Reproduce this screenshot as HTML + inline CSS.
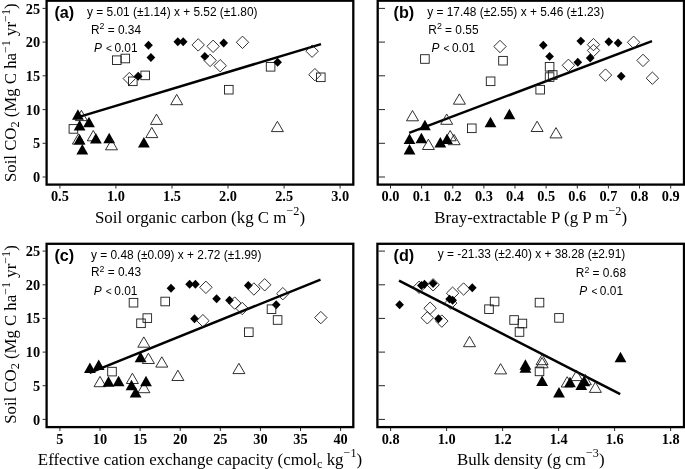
<!DOCTYPE html>
<html><head><meta charset="utf-8"><title>Soil CO2 regressions</title>
<style>html,body{margin:0;padding:0;background:#fff}svg{display:block;will-change:transform}</style>
</head><body>
<svg width="685" height="469" viewBox="0 0 685 469">
<rect width="685" height="469" fill="#fff"/>
<rect x="46.6" y="0.7" width="306.7" height="183.9" fill="none" stroke="#000" stroke-width="2.3"/>
<rect x="377.7" y="0.7" width="306.3" height="183.9" fill="none" stroke="#000" stroke-width="2.3"/>
<rect x="46.6" y="243.8" width="306.7" height="183.3" fill="none" stroke="#000" stroke-width="2.3"/>
<rect x="377.4" y="243.8" width="306.6" height="183.3" fill="none" stroke="#000" stroke-width="2.3"/>
<path d="M42.6 8.4H45.6" stroke="#000" stroke-width="0.85"/>
<text x="40.1" y="13.9" text-anchor="end" font-family="Liberation Serif, serif" font-weight="bold" font-size="14.3">25</text>
<path d="M378.7 8.4H385" stroke="#000" stroke-width="0.85"/>
<path d="M42.6 42.1H45.6" stroke="#000" stroke-width="0.85"/>
<text x="40.1" y="47.4" text-anchor="end" font-family="Liberation Serif, serif" font-weight="bold" font-size="14.3">20</text>
<path d="M378.7 42.1H385" stroke="#000" stroke-width="0.85"/>
<path d="M42.6 75.8H45.6" stroke="#000" stroke-width="0.85"/>
<text x="40.1" y="81.0" text-anchor="end" font-family="Liberation Serif, serif" font-weight="bold" font-size="14.3">15</text>
<path d="M378.7 75.8H385" stroke="#000" stroke-width="0.85"/>
<path d="M42.6 109.6H45.6" stroke="#000" stroke-width="0.85"/>
<text x="40.1" y="114.5" text-anchor="end" font-family="Liberation Serif, serif" font-weight="bold" font-size="14.3">10</text>
<path d="M378.7 109.6H385" stroke="#000" stroke-width="0.85"/>
<path d="M42.6 143.3H45.6" stroke="#000" stroke-width="0.85"/>
<text x="40.1" y="148.1" text-anchor="end" font-family="Liberation Serif, serif" font-weight="bold" font-size="14.3">5</text>
<path d="M378.7 143.3H385" stroke="#000" stroke-width="0.85"/>
<path d="M42.6 177.0H45.6" stroke="#000" stroke-width="0.85"/>
<text x="40.1" y="181.6" text-anchor="end" font-family="Liberation Serif, serif" font-weight="bold" font-size="14.3">0</text>
<path d="M378.7 177.0H385" stroke="#000" stroke-width="0.85"/>
<path d="M42.6 251.1H45.6" stroke="#000" stroke-width="0.85"/>
<text x="40.1" y="255.9" text-anchor="end" font-family="Liberation Serif, serif" font-weight="bold" font-size="14.3">25</text>
<path d="M378.7 251.1H385" stroke="#000" stroke-width="0.85"/>
<path d="M42.6 284.8H45.6" stroke="#000" stroke-width="0.85"/>
<text x="40.1" y="289.7" text-anchor="end" font-family="Liberation Serif, serif" font-weight="bold" font-size="14.3">20</text>
<path d="M378.7 284.8H385" stroke="#000" stroke-width="0.85"/>
<path d="M42.6 318.4H45.6" stroke="#000" stroke-width="0.85"/>
<text x="40.1" y="323.4" text-anchor="end" font-family="Liberation Serif, serif" font-weight="bold" font-size="14.3">15</text>
<path d="M378.7 318.4H385" stroke="#000" stroke-width="0.85"/>
<path d="M42.6 352.1H45.6" stroke="#000" stroke-width="0.85"/>
<text x="40.1" y="357.2" text-anchor="end" font-family="Liberation Serif, serif" font-weight="bold" font-size="14.3">10</text>
<path d="M378.7 352.1H385" stroke="#000" stroke-width="0.85"/>
<path d="M42.6 385.7H45.6" stroke="#000" stroke-width="0.85"/>
<text x="40.1" y="391.0" text-anchor="end" font-family="Liberation Serif, serif" font-weight="bold" font-size="14.3">5</text>
<path d="M378.7 385.7H385" stroke="#000" stroke-width="0.85"/>
<path d="M42.6 419.4H45.6" stroke="#000" stroke-width="0.85"/>
<text x="40.1" y="424.8" text-anchor="end" font-family="Liberation Serif, serif" font-weight="bold" font-size="14.3">0</text>
<path d="M378.7 419.4H385" stroke="#000" stroke-width="0.85"/>
<path d="M59.9 185.5V188.5" stroke="#000" stroke-width="0.85"/>
<text x="59.9" y="201" text-anchor="middle" font-family="Liberation Serif, serif" font-weight="bold" font-size="14.3">0.5</text>
<path d="M115.9 185.5V188.5" stroke="#000" stroke-width="0.85"/>
<text x="115.9" y="201" text-anchor="middle" font-family="Liberation Serif, serif" font-weight="bold" font-size="14.3">1.0</text>
<path d="M172.0 185.5V188.5" stroke="#000" stroke-width="0.85"/>
<text x="172.0" y="201" text-anchor="middle" font-family="Liberation Serif, serif" font-weight="bold" font-size="14.3">1.5</text>
<path d="M228.0 185.5V188.5" stroke="#000" stroke-width="0.85"/>
<text x="228.0" y="201" text-anchor="middle" font-family="Liberation Serif, serif" font-weight="bold" font-size="14.3">2.0</text>
<path d="M284.1 185.5V188.5" stroke="#000" stroke-width="0.85"/>
<text x="284.1" y="201" text-anchor="middle" font-family="Liberation Serif, serif" font-weight="bold" font-size="14.3">2.5</text>
<path d="M340.1 185.5V188.5" stroke="#000" stroke-width="0.85"/>
<text x="340.1" y="201" text-anchor="middle" font-family="Liberation Serif, serif" font-weight="bold" font-size="14.3">3.0</text>
<path d="M390.5 185.5V188.5" stroke="#000" stroke-width="0.85"/>
<text x="390.5" y="201" text-anchor="middle" font-family="Liberation Serif, serif" font-weight="bold" font-size="14.3">0.0</text>
<path d="M421.6 185.5V188.5" stroke="#000" stroke-width="0.85"/>
<text x="421.6" y="201" text-anchor="middle" font-family="Liberation Serif, serif" font-weight="bold" font-size="14.3">0.1</text>
<path d="M452.8 185.5V188.5" stroke="#000" stroke-width="0.85"/>
<text x="452.8" y="201" text-anchor="middle" font-family="Liberation Serif, serif" font-weight="bold" font-size="14.3">0.2</text>
<path d="M483.9 185.5V188.5" stroke="#000" stroke-width="0.85"/>
<text x="483.9" y="201" text-anchor="middle" font-family="Liberation Serif, serif" font-weight="bold" font-size="14.3">0.3</text>
<path d="M515.0 185.5V188.5" stroke="#000" stroke-width="0.85"/>
<text x="515.0" y="201" text-anchor="middle" font-family="Liberation Serif, serif" font-weight="bold" font-size="14.3">0.4</text>
<path d="M546.1 185.5V188.5" stroke="#000" stroke-width="0.85"/>
<text x="546.1" y="201" text-anchor="middle" font-family="Liberation Serif, serif" font-weight="bold" font-size="14.3">0.5</text>
<path d="M577.3 185.5V188.5" stroke="#000" stroke-width="0.85"/>
<text x="577.3" y="201" text-anchor="middle" font-family="Liberation Serif, serif" font-weight="bold" font-size="14.3">0.6</text>
<path d="M608.4 185.5V188.5" stroke="#000" stroke-width="0.85"/>
<text x="608.4" y="201" text-anchor="middle" font-family="Liberation Serif, serif" font-weight="bold" font-size="14.3">0.7</text>
<path d="M639.5 185.5V188.5" stroke="#000" stroke-width="0.85"/>
<text x="639.5" y="201" text-anchor="middle" font-family="Liberation Serif, serif" font-weight="bold" font-size="14.3">0.8</text>
<path d="M670.7 185.5V188.5" stroke="#000" stroke-width="0.85"/>
<text x="670.7" y="201" text-anchor="middle" font-family="Liberation Serif, serif" font-weight="bold" font-size="14.3">0.9</text>
<path d="M59.9 428V431" stroke="#000" stroke-width="0.85"/>
<text x="59.9" y="443.6" text-anchor="middle" font-family="Liberation Serif, serif" font-weight="bold" font-size="14.3">5</text>
<path d="M100.0 428V431" stroke="#000" stroke-width="0.85"/>
<text x="100.0" y="443.6" text-anchor="middle" font-family="Liberation Serif, serif" font-weight="bold" font-size="14.3">10</text>
<path d="M140.1 428V431" stroke="#000" stroke-width="0.85"/>
<text x="140.1" y="443.6" text-anchor="middle" font-family="Liberation Serif, serif" font-weight="bold" font-size="14.3">15</text>
<path d="M180.2 428V431" stroke="#000" stroke-width="0.85"/>
<text x="180.2" y="443.6" text-anchor="middle" font-family="Liberation Serif, serif" font-weight="bold" font-size="14.3">20</text>
<path d="M220.3 428V431" stroke="#000" stroke-width="0.85"/>
<text x="220.3" y="443.6" text-anchor="middle" font-family="Liberation Serif, serif" font-weight="bold" font-size="14.3">25</text>
<path d="M260.4 428V431" stroke="#000" stroke-width="0.85"/>
<text x="260.4" y="443.6" text-anchor="middle" font-family="Liberation Serif, serif" font-weight="bold" font-size="14.3">30</text>
<path d="M300.5 428V431" stroke="#000" stroke-width="0.85"/>
<text x="300.5" y="443.6" text-anchor="middle" font-family="Liberation Serif, serif" font-weight="bold" font-size="14.3">35</text>
<path d="M340.6 428V431" stroke="#000" stroke-width="0.85"/>
<text x="340.6" y="443.6" text-anchor="middle" font-family="Liberation Serif, serif" font-weight="bold" font-size="14.3">40</text>
<path d="M390.6 428V431" stroke="#000" stroke-width="0.85"/>
<text x="390.6" y="443.6" text-anchor="middle" font-family="Liberation Serif, serif" font-weight="bold" font-size="14.3">0.8</text>
<path d="M446.6 428V431" stroke="#000" stroke-width="0.85"/>
<text x="446.6" y="443.6" text-anchor="middle" font-family="Liberation Serif, serif" font-weight="bold" font-size="14.3">1.0</text>
<path d="M502.6 428V431" stroke="#000" stroke-width="0.85"/>
<text x="502.6" y="443.6" text-anchor="middle" font-family="Liberation Serif, serif" font-weight="bold" font-size="14.3">1.2</text>
<path d="M558.6 428V431" stroke="#000" stroke-width="0.85"/>
<text x="558.6" y="443.6" text-anchor="middle" font-family="Liberation Serif, serif" font-weight="bold" font-size="14.3">1.4</text>
<path d="M614.6 428V431" stroke="#000" stroke-width="0.85"/>
<text x="614.6" y="443.6" text-anchor="middle" font-family="Liberation Serif, serif" font-weight="bold" font-size="14.3">1.6</text>
<path d="M670.6 428V431" stroke="#000" stroke-width="0.85"/>
<text x="670.6" y="443.6" text-anchor="middle" font-family="Liberation Serif, serif" font-weight="bold" font-size="14.3">1.8</text>
<path d="M76.7 117.6L321.0 44.1" stroke="#000" stroke-width="2.5"/>
<path d="M409.2 132.9L652.0 41.1" stroke="#000" stroke-width="2.5"/>
<path d="M89.6 372.8L320.5 279.7" stroke="#000" stroke-width="2.5"/>
<path d="M399.0 280.6L620.2 394.2" stroke="#000" stroke-width="2.5"/>
<path d="M148.5 40.85L152.85 45.3L148.5 49.75L144.15 45.3Z" fill="#000"/>
<path d="M150.9 53.05L155.25 57.5L150.9 61.95L146.55 57.5Z" fill="#000"/>
<path d="M177.8 37.35L182.15 41.8L177.8 46.25L173.45 41.8Z" fill="#000"/>
<path d="M183.2 37.35L187.55 41.8L183.2 46.25L178.85 41.8Z" fill="#000"/>
<path d="M198.2 38.7L204.4 44.9L198.2 51.1L192.0 44.9Z" fill="none" stroke="#1a1a1a" stroke-width="0.9"/>
<path d="M204.8 51.95L209.15 56.4L204.8 60.85L200.45 56.4Z" fill="#000"/>
<rect x="112.5" y="55.9" width="8.6" height="8.6" fill="none" stroke="#1a1a1a" stroke-width="0.9"/>
<rect x="121.0" y="54.2" width="8.6" height="8.6" fill="none" stroke="#1a1a1a" stroke-width="0.9"/>
<rect x="140.9" y="71.1" width="8.6" height="8.6" fill="none" stroke="#1a1a1a" stroke-width="0.9"/>
<path d="M129.3 72.4L135.5 78.6L129.3 84.8L123.1 78.6Z" fill="none" stroke="#1a1a1a" stroke-width="0.9"/>
<rect x="128.5" y="77.0" width="8.6" height="8.6" fill="none" stroke="#1a1a1a" stroke-width="0.9"/>
<path d="M138.2 71.85L142.55 76.3L138.2 80.75L133.85 76.3Z" fill="#000"/>
<path d="M176.7 94.4L182.7 104.7L170.7 104.7Z" fill="none" stroke="#1a1a1a" stroke-width="0.9"/>
<path d="M156.5 114.1L162.5 124.4L150.5 124.4Z" fill="none" stroke="#1a1a1a" stroke-width="0.9"/>
<path d="M213.1 40.1L219.3 46.3L213.1 52.5L206.9 46.3Z" fill="none" stroke="#1a1a1a" stroke-width="0.9"/>
<path d="M223.7 38.55L228.05 43.0L223.7 47.45L219.35 43.0Z" fill="#000"/>
<path d="M242.5 36.1L248.7 42.3L242.5 48.5L236.3 42.3Z" fill="none" stroke="#1a1a1a" stroke-width="0.9"/>
<path d="M210.1 54.2L216.3 60.4L210.1 66.6L203.9 60.4Z" fill="none" stroke="#1a1a1a" stroke-width="0.9"/>
<path d="M220.2 59.5L226.4 65.7L220.2 71.9L214.0 65.7Z" fill="none" stroke="#1a1a1a" stroke-width="0.9"/>
<rect x="266.3" y="62.5" width="8.6" height="8.6" fill="none" stroke="#1a1a1a" stroke-width="0.9"/>
<path d="M277.6 57.75L281.95 62.2L277.6 66.65L273.25 62.2Z" fill="#000"/>
<rect x="224.5" y="85.4" width="8.6" height="8.6" fill="none" stroke="#1a1a1a" stroke-width="0.9"/>
<path d="M312.1 45.0L318.3 51.2L312.1 57.4L305.9 51.2Z" fill="none" stroke="#1a1a1a" stroke-width="0.9"/>
<path d="M314.9 68.5L321.1 74.7L314.9 80.9L308.7 74.7Z" fill="none" stroke="#1a1a1a" stroke-width="0.9"/>
<rect x="316.5" y="73.0" width="8.6" height="8.6" fill="none" stroke="#1a1a1a" stroke-width="0.9"/>
<path d="M277.4 121.3L283.4 131.6L271.4 131.6Z" fill="none" stroke="#1a1a1a" stroke-width="0.9"/>
<path d="M81.4 110.3L87.4 120.6L75.4 120.6Z" fill="none" stroke="#1a1a1a" stroke-width="0.9"/>
<path d="M77.9 109.2L83.8 119.7L72.0 119.7Z" fill="#000"/>
<path d="M89.0 116.8L94.9 127.3L83.1 127.3Z" fill="#000"/>
<rect x="69.1" y="124.6" width="8.6" height="8.6" fill="none" stroke="#1a1a1a" stroke-width="0.9"/>
<path d="M79.6 120.1L85.5 130.6L73.7 130.6Z" fill="#000"/>
<path d="M93.3 130.5L99.3 140.8L87.3 140.8Z" fill="none" stroke="#1a1a1a" stroke-width="0.9"/>
<path d="M95.9 133.1L101.8 143.6L90.0 143.6Z" fill="#000"/>
<path d="M78.4 133.8L84.4 144.1L72.4 144.1Z" fill="none" stroke="#1a1a1a" stroke-width="0.9"/>
<path d="M79.6 133.9L85.5 144.4L73.7 144.4Z" fill="#000"/>
<path d="M109.2 132.7L115.1 143.2L103.3 143.2Z" fill="#000"/>
<path d="M111.5 139.5L117.5 149.8L105.5 149.8Z" fill="none" stroke="#1a1a1a" stroke-width="0.9"/>
<path d="M82.3 144.0L88.2 154.5L76.4 154.5Z" fill="#000"/>
<path d="M143.9 137.1L149.8 147.6L138.0 147.6Z" fill="#000"/>
<path d="M151.8 127.3L157.8 137.6L145.8 137.6Z" fill="none" stroke="#1a1a1a" stroke-width="0.9"/>
<rect x="420.6" y="54.7" width="8.6" height="8.6" fill="none" stroke="#1a1a1a" stroke-width="0.9"/>
<path d="M500.0 40.3L506.2 46.5L500.0 52.7L493.8 46.5Z" fill="none" stroke="#1a1a1a" stroke-width="0.9"/>
<rect x="498.7" y="56.4" width="8.6" height="8.6" fill="none" stroke="#1a1a1a" stroke-width="0.9"/>
<rect x="486.3" y="77.0" width="8.6" height="8.6" fill="none" stroke="#1a1a1a" stroke-width="0.9"/>
<path d="M459.4 93.9L465.4 104.2L453.4 104.2Z" fill="none" stroke="#1a1a1a" stroke-width="0.9"/>
<path d="M412.5 110.5L418.5 120.8L406.5 120.8Z" fill="none" stroke="#1a1a1a" stroke-width="0.9"/>
<path d="M446.7 114.0L452.7 124.3L440.7 124.3Z" fill="none" stroke="#1a1a1a" stroke-width="0.9"/>
<path d="M424.9 119.8L430.8 130.3L419.0 130.3Z" fill="#000"/>
<path d="M490.5 116.8L496.4 127.3L484.6 127.3Z" fill="#000"/>
<path d="M509.4 108.7L515.3 119.2L503.5 119.2Z" fill="#000"/>
<rect x="467.5" y="124.0" width="8.6" height="8.6" fill="none" stroke="#1a1a1a" stroke-width="0.9"/>
<path d="M543.3 40.85L547.65 45.3L543.3 49.75L538.95 45.3Z" fill="#000"/>
<path d="M549.6 51.95L553.95 56.4L549.6 60.85L545.25 56.4Z" fill="#000"/>
<path d="M580.8 36.65L585.15 41.1L580.8 45.55L576.45 41.1Z" fill="#000"/>
<path d="M593.5 38.4L599.7 44.6L593.5 50.8L587.3 44.6Z" fill="none" stroke="#1a1a1a" stroke-width="0.9"/>
<path d="M593.5 44.3L599.7 50.5L593.5 56.7L587.3 50.5Z" fill="none" stroke="#1a1a1a" stroke-width="0.9"/>
<path d="M608.8 37.35L613.15 41.8L608.8 46.25L604.45 41.8Z" fill="#000"/>
<path d="M618.1 38.55L622.45 43.0L618.1 47.45L613.75 43.0Z" fill="#000"/>
<path d="M633.6 36.1L639.8 42.3L633.6 48.5L627.4 42.3Z" fill="none" stroke="#1a1a1a" stroke-width="0.9"/>
<path d="M577.8 57.75L582.15 62.2L577.8 66.65L573.45 62.2Z" fill="#000"/>
<path d="M590.2 53.55L594.55 58.0L590.2 62.45L585.85 58.0Z" fill="#000"/>
<path d="M568.4 59.1L574.6 65.3L568.4 71.5L562.2 65.3Z" fill="none" stroke="#1a1a1a" stroke-width="0.9"/>
<rect x="545.3" y="62.5" width="8.6" height="8.6" fill="none" stroke="#1a1a1a" stroke-width="0.9"/>
<rect x="548.4" y="70.7" width="8.6" height="8.6" fill="none" stroke="#1a1a1a" stroke-width="0.9"/>
<rect x="545.3" y="72.8" width="8.6" height="8.6" fill="none" stroke="#1a1a1a" stroke-width="0.9"/>
<rect x="535.9" y="85.4" width="8.6" height="8.6" fill="none" stroke="#1a1a1a" stroke-width="0.9"/>
<path d="M605.5 68.9L611.7 75.1L605.5 81.3L599.3 75.1Z" fill="none" stroke="#1a1a1a" stroke-width="0.9"/>
<path d="M621.2 71.85L625.55 76.3L621.2 80.75L616.85 76.3Z" fill="#000"/>
<path d="M643.0 54.2L649.2 60.4L643.0 66.6L636.8 60.4Z" fill="none" stroke="#1a1a1a" stroke-width="0.9"/>
<path d="M652.4 72.0L658.6 78.2L652.4 84.4L646.2 78.2Z" fill="none" stroke="#1a1a1a" stroke-width="0.9"/>
<path d="M537.1 121.2L543.1 131.5L531.1 131.5Z" fill="none" stroke="#1a1a1a" stroke-width="0.9"/>
<path d="M556.0 127.6L562.0 137.9L550.0 137.9Z" fill="none" stroke="#1a1a1a" stroke-width="0.9"/>
<path d="M409.5 133.4L415.4 143.9L403.6 143.9Z" fill="#000"/>
<path d="M421.4 132.7L427.3 143.2L415.5 143.2Z" fill="#000"/>
<path d="M428.4 139.2L434.4 149.5L422.4 149.5Z" fill="none" stroke="#1a1a1a" stroke-width="0.9"/>
<path d="M409.5 144.0L415.4 154.5L403.6 154.5Z" fill="#000"/>
<path d="M440.3 137.0L446.2 147.5L434.4 147.5Z" fill="#000"/>
<path d="M450.2 130.5L456.2 140.8L444.2 140.8Z" fill="none" stroke="#1a1a1a" stroke-width="0.9"/>
<path d="M454.1 134.4L460.1 144.7L448.1 144.7Z" fill="none" stroke="#1a1a1a" stroke-width="0.9"/>
<path d="M447.0 133.4L452.9 143.9L441.1 143.9Z" fill="#000"/>
<path d="M171.0 283.85L175.35 288.3L171.0 292.75L166.65 288.3Z" fill="#000"/>
<path d="M189.6 279.85L193.95 284.3L189.6 288.75L185.25 284.3Z" fill="#000"/>
<path d="M195.4 279.85L199.75 284.3L195.4 288.75L191.05 284.3Z" fill="#000"/>
<path d="M205.9 281.1L212.1 287.3L205.9 293.5L199.7 287.3Z" fill="none" stroke="#1a1a1a" stroke-width="0.9"/>
<rect x="129.2" y="298.4" width="8.6" height="8.6" fill="none" stroke="#1a1a1a" stroke-width="0.9"/>
<rect x="160.9" y="297.2" width="8.6" height="8.6" fill="none" stroke="#1a1a1a" stroke-width="0.9"/>
<rect x="143.0" y="313.8" width="8.6" height="8.6" fill="none" stroke="#1a1a1a" stroke-width="0.9"/>
<rect x="136.7" y="319.0" width="8.6" height="8.6" fill="none" stroke="#1a1a1a" stroke-width="0.9"/>
<path d="M194.5 314.35L198.85 318.8L194.5 323.25L190.15 318.8Z" fill="#000"/>
<path d="M202.9 314.5L209.1 320.7L202.9 326.9L196.7 320.7Z" fill="none" stroke="#1a1a1a" stroke-width="0.9"/>
<path d="M143.8 336.9L149.8 347.2L137.8 347.2Z" fill="none" stroke="#1a1a1a" stroke-width="0.9"/>
<path d="M140.6 351.7L146.5 362.2L134.7 362.2Z" fill="#000"/>
<path d="M148.4 353.2L154.4 363.5L142.4 363.5Z" fill="none" stroke="#1a1a1a" stroke-width="0.9"/>
<path d="M161.8 356.8L167.8 367.1L155.8 367.1Z" fill="none" stroke="#1a1a1a" stroke-width="0.9"/>
<path d="M216.6 294.35L220.95 298.8L216.6 303.25L212.25 298.8Z" fill="#000"/>
<path d="M229.5 295.75L233.85 300.2L229.5 304.65L225.15 300.2Z" fill="#000"/>
<path d="M234.7 296.9L240.9 303.1L234.7 309.3L228.5 303.1Z" fill="none" stroke="#1a1a1a" stroke-width="0.9"/>
<path d="M242.2 302.3L248.4 308.5L242.2 314.7L236.0 308.5Z" fill="none" stroke="#1a1a1a" stroke-width="0.9"/>
<path d="M248.3 281.05L252.65 285.5L248.3 289.95L243.95 285.5Z" fill="#000"/>
<path d="M253.9 282.8L260.1 289.0L253.9 295.2L247.7 289.0Z" fill="none" stroke="#1a1a1a" stroke-width="0.9"/>
<path d="M264.7 278.6L270.9 284.8L264.7 291.0L258.5 284.8Z" fill="none" stroke="#1a1a1a" stroke-width="0.9"/>
<path d="M282.8 287.5L289.0 293.7L282.8 299.9L276.6 293.7Z" fill="none" stroke="#1a1a1a" stroke-width="0.9"/>
<path d="M276.2 300.25L280.55 304.7L276.2 309.15L271.85 304.7Z" fill="#000"/>
<rect x="267.2" y="304.9" width="8.6" height="8.6" fill="none" stroke="#1a1a1a" stroke-width="0.9"/>
<rect x="273.3" y="315.7" width="8.6" height="8.6" fill="none" stroke="#1a1a1a" stroke-width="0.9"/>
<rect x="244.5" y="327.9" width="8.6" height="8.6" fill="none" stroke="#1a1a1a" stroke-width="0.9"/>
<path d="M320.8 311.4L327.0 317.6L320.8 323.8L314.6 317.6Z" fill="none" stroke="#1a1a1a" stroke-width="0.9"/>
<path d="M238.9 363.3L244.9 373.6L232.9 373.6Z" fill="none" stroke="#1a1a1a" stroke-width="0.9"/>
<path d="M89.9 362.5L95.8 373.0L84.0 373.0Z" fill="#000"/>
<path d="M98.7 359.5L104.6 370.0L92.8 370.0Z" fill="#000"/>
<rect x="107.7" y="367.3" width="8.6" height="8.6" fill="none" stroke="#1a1a1a" stroke-width="0.9"/>
<path d="M100.0 376.4L106.0 386.7L94.0 386.7Z" fill="none" stroke="#1a1a1a" stroke-width="0.9"/>
<path d="M108.5 376.3L114.4 386.8L102.6 386.8Z" fill="#000"/>
<path d="M118.6 375.8L124.5 386.3L112.7 386.3Z" fill="#000"/>
<path d="M132.4 373.2L138.4 383.5L126.4 383.5Z" fill="none" stroke="#1a1a1a" stroke-width="0.9"/>
<path d="M131.5 379.7L137.4 390.2L125.6 390.2Z" fill="#000"/>
<path d="M143.9 382.4L149.9 392.7L137.9 392.7Z" fill="none" stroke="#1a1a1a" stroke-width="0.9"/>
<path d="M146.0 375.8L151.9 386.3L140.1 386.3Z" fill="#000"/>
<path d="M135.6 386.9L141.5 397.4L129.7 397.4Z" fill="#000"/>
<path d="M177.9 370.2L183.9 380.5L171.9 380.5Z" fill="none" stroke="#1a1a1a" stroke-width="0.9"/>
<path d="M399.6 300.25L403.95 304.7L399.6 309.15L395.25 304.7Z" fill="#000"/>
<path d="M419.1 281.1L425.3 287.3L419.1 293.5L412.9 287.3Z" fill="none" stroke="#1a1a1a" stroke-width="0.9"/>
<path d="M421.4 281.05L425.75 285.5L421.4 289.95L417.05 285.5Z" fill="#000"/>
<path d="M424.5 279.85L428.85 284.3L424.5 288.75L420.15 284.3Z" fill="#000"/>
<path d="M433.1 278.6L439.3 284.8L433.1 291.0L426.9 284.8Z" fill="none" stroke="#1a1a1a" stroke-width="0.9"/>
<path d="M433.1 279.15L437.45 283.6L433.1 288.05L428.75 283.6Z" fill="#000"/>
<path d="M452.6 287.0L458.8 293.2L452.6 299.4L446.4 293.2Z" fill="none" stroke="#1a1a1a" stroke-width="0.9"/>
<path d="M463.6 282.8L469.8 289.0L463.6 295.2L457.4 289.0Z" fill="none" stroke="#1a1a1a" stroke-width="0.9"/>
<path d="M472.3 283.35L476.65 287.8L472.3 292.25L467.95 287.8Z" fill="#000"/>
<path d="M450.7 296.9L456.9 303.1L450.7 309.3L444.5 303.1Z" fill="none" stroke="#1a1a1a" stroke-width="0.9"/>
<path d="M449.6 294.65L453.95 299.1L449.6 303.55L445.25 299.1Z" fill="#000"/>
<path d="M452.6 295.75L456.95 300.2L452.6 304.65L448.25 300.2Z" fill="#000"/>
<path d="M430.1 302.0L436.3 308.2L430.1 314.4L423.9 308.2Z" fill="none" stroke="#1a1a1a" stroke-width="0.9"/>
<path d="M427.3 311.6L433.5 317.8L427.3 324.0L421.1 317.8Z" fill="none" stroke="#1a1a1a" stroke-width="0.9"/>
<path d="M441.8 314.9L448.0 321.1L441.8 327.3L435.6 321.1Z" fill="none" stroke="#1a1a1a" stroke-width="0.9"/>
<path d="M438.5 314.35L442.85 318.8L438.5 323.25L434.15 318.8Z" fill="#000"/>
<rect x="490.3" y="297.2" width="8.6" height="8.6" fill="none" stroke="#1a1a1a" stroke-width="0.9"/>
<rect x="484.7" y="304.9" width="8.6" height="8.6" fill="none" stroke="#1a1a1a" stroke-width="0.9"/>
<rect x="509.8" y="315.7" width="8.6" height="8.6" fill="none" stroke="#1a1a1a" stroke-width="0.9"/>
<rect x="518.1" y="319.2" width="8.6" height="8.6" fill="none" stroke="#1a1a1a" stroke-width="0.9"/>
<rect x="515.2" y="327.7" width="8.6" height="8.6" fill="none" stroke="#1a1a1a" stroke-width="0.9"/>
<rect x="535.2" y="298.3" width="8.6" height="8.6" fill="none" stroke="#1a1a1a" stroke-width="0.9"/>
<rect x="554.7" y="313.6" width="8.6" height="8.6" fill="none" stroke="#1a1a1a" stroke-width="0.9"/>
<path d="M469.5 336.4L475.5 346.7L463.5 346.7Z" fill="none" stroke="#1a1a1a" stroke-width="0.9"/>
<path d="M500.6 363.6L506.6 373.9L494.6 373.9Z" fill="none" stroke="#1a1a1a" stroke-width="0.9"/>
<path d="M525.4 359.2L531.3 369.7L519.5 369.7Z" fill="#000"/>
<path d="M525.4 362.3L531.3 372.8L519.5 372.8Z" fill="#000"/>
<path d="M542.1 354.4L548.1 364.7L536.1 364.7Z" fill="none" stroke="#1a1a1a" stroke-width="0.9"/>
<path d="M542.1 357.5L548.1 367.8L536.1 367.8Z" fill="none" stroke="#1a1a1a" stroke-width="0.9"/>
<rect x="535.2" y="367.1" width="8.6" height="8.6" fill="none" stroke="#1a1a1a" stroke-width="0.9"/>
<path d="M542.1 375.6L548.0 386.1L536.2 386.1Z" fill="#000"/>
<path d="M559.0 386.9L564.9 397.4L553.1 397.4Z" fill="#000"/>
<path d="M567.2 376.7L573.2 387.0L561.2 387.0Z" fill="none" stroke="#1a1a1a" stroke-width="0.9"/>
<path d="M570.0 376.8L575.9 387.3L564.1 387.3Z" fill="#000"/>
<path d="M576.6 370.3L582.6 380.6L570.6 380.6Z" fill="none" stroke="#1a1a1a" stroke-width="0.9"/>
<path d="M581.3 379.6L587.2 390.1L575.4 390.1Z" fill="#000"/>
<path d="M585.3 374.4L591.3 384.7L579.3 384.7Z" fill="none" stroke="#1a1a1a" stroke-width="0.9"/>
<path d="M584.3 375.7L590.2 386.2L578.4 386.2Z" fill="#000"/>
<path d="M595.4 382.1L601.4 392.4L589.4 392.4Z" fill="none" stroke="#1a1a1a" stroke-width="0.9"/>
<path d="M620.5 351.7L626.4 362.2L614.6 362.2Z" fill="#000"/>
<text x="54.4" y="18" font-family="Liberation Sans, sans-serif" font-weight="bold" font-size="16.2">(a)</text>
<text x="393.5" y="18" font-family="Liberation Sans, sans-serif" font-weight="bold" font-size="16.2">(b)</text>
<text x="54.4" y="260.5" font-family="Liberation Sans, sans-serif" font-weight="bold" font-size="16.2">(c)</text>
<text x="393.5" y="260.5" font-family="Liberation Sans, sans-serif" font-weight="bold" font-size="16.2">(d)</text>
<text x="87.1" y="15.9" text-anchor="start" font-family="Liberation Sans, sans-serif" font-size="11.9">y = 5.01 (±1.14) x + 5.52 (±1.80)</text>
<text x="90.9" y="33.9" text-anchor="start" font-family="Liberation Sans, sans-serif" font-size="11.9">R<tspan dy="-4.6" font-size="8.8">2</tspan><tspan dy="4.6"> = 0.34</tspan></text>
<text x="93.9" y="52.3" text-anchor="start" font-family="Liberation Sans, sans-serif" font-size="11.9"><tspan font-style="italic">P</tspan> <tspan font-size="10.2" dx="0.8">&lt;</tspan><tspan dx="-0.8"> 0.01</tspan></text>
<text x="427.2" y="15.9" text-anchor="start" font-family="Liberation Sans, sans-serif" font-size="11.9">y = 17.48 (±2.55) x + 5.46 (±1.23)</text>
<text x="428.3" y="33.9" text-anchor="start" font-family="Liberation Sans, sans-serif" font-size="11.9">R<tspan dy="-4.6" font-size="8.8">2</tspan><tspan dy="4.6"> = 0.55</tspan></text>
<text x="431.5" y="52.3" text-anchor="start" font-family="Liberation Sans, sans-serif" font-size="11.9"><tspan font-style="italic">P</tspan> <tspan font-size="10.2" dx="0.8">&lt;</tspan><tspan dx="-0.8"> 0.01</tspan></text>
<text x="91" y="258.9" text-anchor="start" font-family="Liberation Sans, sans-serif" font-size="11.9">y = 0.48 (±0.09) x + 2.72 (±1.99)</text>
<text x="90.9" y="276.4" text-anchor="start" font-family="Liberation Sans, sans-serif" font-size="11.9">R<tspan dy="-4.6" font-size="8.8">2</tspan><tspan dy="4.6"> = 0.43</tspan></text>
<text x="93.8" y="294.8" text-anchor="start" font-family="Liberation Sans, sans-serif" font-size="11.9"><tspan font-style="italic">P</tspan> <tspan font-size="10.2" dx="0.8">&lt;</tspan><tspan dx="-0.8"> 0.01</tspan></text>
<text x="625.3" y="258.4" text-anchor="end" font-family="Liberation Sans, sans-serif" font-size="11.9">y = -21.33 (±2.40) x + 38.28 (±2.91)</text>
<text x="626" y="277.1" text-anchor="end" font-family="Liberation Sans, sans-serif" font-size="11.9">R<tspan dy="-4.6" font-size="8.8">2</tspan><tspan dy="4.6"> = 0.68</tspan></text>
<text x="623" y="294.8" text-anchor="end" font-family="Liberation Sans, sans-serif" font-size="11.9"><tspan font-style="italic">P</tspan> <tspan font-size="10.2" dx="0.8">&lt;</tspan><tspan dx="-0.8"> 0.01</tspan></text>
<text x="200" y="222.8" text-anchor="middle" font-family="Liberation Serif, serif" font-size="16.9">Soil organic carbon (kg C m<tspan dy="-8" font-size="12.2">−2</tspan><tspan dy="8">)</tspan></text>
<text x="530.7" y="222.8" text-anchor="middle" font-family="Liberation Serif, serif" font-size="16.9">Bray-extractable P (g P m<tspan dy="-8" font-size="12.2">−2</tspan><tspan dy="8">)</tspan></text>
<text x="200" y="465" text-anchor="middle" font-family="Liberation Serif, serif" font-size="16.9">Effective cation exchange capacity (cmol<tspan dy="3" font-size="12.2">c</tspan><tspan dy="-3"> kg</tspan><tspan dy="-8" font-size="12.2">−1</tspan><tspan dy="8">)</tspan></text>
<text x="530.7" y="465" text-anchor="middle" font-family="Liberation Serif, serif" font-size="16.9">Bulk density (g cm<tspan dy="-8" font-size="12.2">−3</tspan><tspan dy="8">)</tspan></text>
<text transform="translate(16.2 92.7) rotate(-90)" text-anchor="middle" font-family="Liberation Serif, serif" font-size="16.75">Soil CO<tspan dy="3" font-size="12.2">2</tspan><tspan dy="-3"> (Mg C ha</tspan><tspan dy="-6" font-size="12.2">−1</tspan><tspan dy="6"> yr</tspan><tspan dy="-6" font-size="12.2">−1</tspan><tspan dy="6">)</tspan></text>
<text transform="translate(16.2 334.5) rotate(-90)" text-anchor="middle" font-family="Liberation Serif, serif" font-size="16.75">Soil CO<tspan dy="3" font-size="12.2">2</tspan><tspan dy="-3"> (Mg C ha</tspan><tspan dy="-6" font-size="12.2">−1</tspan><tspan dy="6"> yr</tspan><tspan dy="-6" font-size="12.2">−1</tspan><tspan dy="6">)</tspan></text>
</svg>
</body></html>
